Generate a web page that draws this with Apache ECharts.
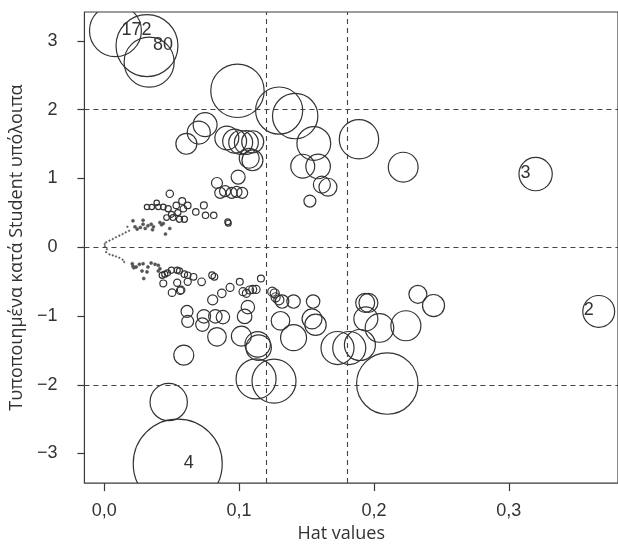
<!DOCTYPE html>
<html>
<head>
<meta charset="utf-8">
<script src="https://cdn.jsdelivr.net/npm/echarts@6/dist/echarts.min.js"></script>
<style>
  html, body { margin: 0; background: #fff; }
  #chart { width: 618px; height: 548px; }
</style>
</head>
<body>
<div id="chart"></div>
<script>
// influence plot: [hat value, studentized residual, Cook's D]
// labelled observations first
const labelledIds = ["172", "80", "3", "2", "4"];
const labelled = [
  [0.0083, 3.147, 0.085],
  [0.0317, 2.931, 0.121],
  [0.3199, 1.063, 0.035],
  [0.3667, -0.934, 0.032],
  [0.0545, -3.147, 0.25]
];
// other large residuals / high leverage
const bigPoints = [
  [0.0333, 2.691, 0.079], [0.0988, 2.274, 0.090], [0.1297, 1.987, 0.070],
  [0.1416, 1.907, 0.065], [0.1554, 1.509, 0.036], [0.1889, 1.570, 0.049],
  [0.2217, 1.164, 0.028], [0.1472, 1.178, 0.018], [0.1586, 1.174, 0.019],
  [0.1614, 0.909, 0.0091], [0.1659, 0.872, 0.0102], [0.1525, 0.671, 0.0045],
  [0.0478, -2.251, 0.044], [0.0590, -1.570, 0.0126]
];
const upperCluster = [
  [0.0748, 1.782, 0.018], [0.0701, 1.667, 0.0167], [0.0609, 1.504, 0.0139],
  [0.0909, 1.588, 0.018], [0.0967, 1.542, 0.018], [0.1012, 1.523, 0.018],
  [0.1054, 1.523, 0.018], [0.1101, 1.533, 0.0153], [0.1075, 1.293, 0.0126],
  [0.1099, 1.264, 0.0139], [0.0836, 0.934, 0.0038], [0.0993, 1.020, 0.0062],
  [0.0860, 0.790, 0.0038], [0.0896, 0.815, 0.0038], [0.0945, 0.790, 0.0038],
  [0.0981, 0.805, 0.0038], [0.1023, 0.790, 0.0038], [0.0486, 0.776, 0.0017]
];
const upperSmall = [
  [0.0317, 0.585, 0.0009], [0.0353, 0.585, 0.0009], [0.0389, 0.647, 0.0009],
  [0.0401, 0.585, 0.0009], [0.0438, 0.585, 0.0010], [0.0474, 0.560, 0.0012],
  [0.0534, 0.608, 0.0013], [0.0578, 0.671, 0.0015], [0.0587, 0.560, 0.0013],
  [0.0619, 0.608, 0.0014], [0.0546, 0.503, 0.0012], [0.0498, 0.478, 0.0011],
  [0.0462, 0.431, 0.0010], [0.0510, 0.431, 0.0011], [0.0558, 0.407, 0.0012],
  [0.0594, 0.407, 0.0012], [0.0679, 0.513, 0.0013], [0.0739, 0.608, 0.0015],
  [0.0751, 0.464, 0.0013], [0.0812, 0.464, 0.0013], [0.0916, 0.369, 0.0011],
  [0.0920, 0.349, 0.0011]
];
const lowerSmall = [
  [0.0430, -0.407, 0.0012], [0.0449, -0.392, 0.0012], [0.0469, -0.374, 0.0012],
  [0.0498, -0.335, 0.0012], [0.0541, -0.335, 0.0012], [0.0558, -0.345, 0.0012],
  [0.0594, -0.392, 0.0013], [0.0619, -0.407, 0.0013], [0.0662, -0.431, 0.0014],
  [0.0800, -0.407, 0.0014], [0.0817, -0.431, 0.0014], [0.0438, -0.527, 0.0015],
  [0.0541, -0.517, 0.0016], [0.0619, -0.503, 0.0016], [0.0722, -0.503, 0.0018],
  [0.0503, -0.661, 0.0018], [0.0563, -0.632, 0.0018], [0.0570, -0.622, 0.0018]
];
const lowerCluster = [
  [0.1005, -0.503, 0.0015], [0.0933, -0.585, 0.0020], [0.0872, -0.671, 0.0023],
  [0.0804, -0.766, 0.0032], [0.1162, -0.455, 0.0015], [0.1029, -0.647, 0.0020],
  [0.1054, -0.671, 0.0020], [0.1078, -0.622, 0.0020], [0.1101, -0.614, 0.0020],
  [0.1126, -0.614, 0.0020], [0.1246, -0.647, 0.0026], [0.1264, -0.671, 0.0026],
  [0.1271, -0.728, 0.0026], [0.1295, -0.766, 0.0032], [0.1319, -0.790, 0.0057],
  [0.1404, -0.790, 0.0057], [0.1549, -0.790, 0.0057], [0.0614, -0.934, 0.0045],
  [0.0619, -1.078, 0.0045], [0.0739, -1.006, 0.0057], [0.0728, -1.125, 0.0057],
  [0.0824, -1.006, 0.0057], [0.0880, -1.016, 0.0057], [0.0836, -1.303, 0.0109],
  [0.1041, -1.006, 0.0067], [0.1065, -0.872, 0.0057], [0.1017, -1.293, 0.0126],
  [0.1145, -1.461, 0.0204], [0.1138, -1.412, 0.0204], [0.1307, -1.070, 0.0109],
  [0.1404, -1.315, 0.0213], [0.1541, -1.042, 0.0126], [0.1567, -1.128, 0.0144],
  [0.1126, -1.915, 0.0505], [0.1259, -1.947, 0.0611], [0.1730, -1.466, 0.0344],
  [0.1817, -1.466, 0.0344], [0.1896, -1.422, 0.0303], [0.1935, -0.809, 0.0114],
  [0.1959, -0.809, 0.0114], [0.1940, -1.042, 0.0182], [0.2041, -1.174, 0.0258],
  [0.2237, -1.142, 0.0284], [0.2326, -0.685, 0.0102], [0.2442, -0.848, 0.0153],
  [0.2099, -1.983, 0.1189]
];
// tiny, near-zero influence points
const dots = [
  [0.0213, 0.384, 0.0003], [0.0228, 0.297, 0.0003], [0.0244, 0.263, 0.0003],
  [0.0268, 0.287, 0.0003], [0.0288, 0.392, 0.0003], [0.0288, 0.335, 0.0003],
  [0.0304, 0.273, 0.0003], [0.0324, 0.312, 0.0003], [0.0348, 0.335, 0.0003],
  [0.0358, 0.254, 0.0003], [0.0365, 0.297, 0.0003], [0.0413, 0.359, 0.0003],
  [0.0425, 0.326, 0.0003], [0.0438, 0.345, 0.0003], [0.0486, 0.273, 0.0003],
  [0.0454, 0.191, 0.0003],
  [0.0213, -0.277, 0.0003], [0.0237, -0.287, 0.0003], [0.0261, -0.249, 0.0003],
  [0.0288, -0.240, 0.0003], [0.0324, -0.287, 0.0003], [0.0348, -0.230, 0.0003],
  [0.0377, -0.249, 0.0003], [0.0401, -0.263, 0.0003], [0.0413, -0.312, 0.0003],
  [0.0401, -0.345, 0.0003], [0.0280, -0.345, 0.0003], [0.0293, -0.455, 0.0003],
  [0.0220, -0.297, 0.0003], [0.0317, -0.359, 0.0003], [0.0208, -0.240, 0.0003]
];
const specks = [
  [0.0172, 0.297, 0.00008], [0.0184, 0.240, 0.00008], [0.0159, 0.216, 0.00008],
  [0.0136, 0.191, 0.00008], [0.0112, 0.168, 0.00008], [0.0087, 0.144, 0.00008],
  [0.0063, 0.119, 0.00008], [0.0039, 0.096, 0.00008], [0.0014, 0.072, 0.00008],
  [0.0003, 0.047, 0.00008], [0.0005, 0.014, 0.00008], [0.0020, -0.029, 0.00008],
  [0.0014, -0.072, 0.00008], [0.0039, -0.105, 0.00008], [0.0063, -0.119, 0.00008],
  [0.0087, -0.134, 0.00008], [0.0112, -0.154, 0.00008], [0.0136, -0.182, 0.00008],
  [0.0148, -0.216, 0.00008]
];
// reference lines: 2x and 3x mean hat, residual -2 / 0 / 2
const hatCutoffs = [0.1175, 0.1768];
const residCutoffs = [-2, 0, 2];
const xTicks = [0, 0.1, 0.2, 0.3];
const yTicks = [-3, -2, -1, 0, 1, 2, 3];

const allPoints = [].concat(labelled, bigPoints, upperCluster, upperSmall,
  lowerSmall, lowerCluster, dots, specks);
const cookMax = Math.max(...allPoints.map(p => p[2]));
const R_MAX = 44.5; // radius of the largest bubble, px
const X_MIN = -0.0147, X_MAX = 0.381;
const xMid = (X_MIN + X_MAX) / 2;
const ink = "#333";

const chart = echarts.init(document.getElementById("chart"));
chart.setOption({
  animation: false,
  grid: {
    left: 81, top: 12, right: -8, bottom: 59,
    show: true, borderColor: "#3a3a3a", borderWidth: 1.2
  },
  xAxis: {
    type: "value", min: X_MIN, max: X_MAX,
    axisLine: { show: false, onZero: false },
    splitLine: { show: false },
    axisTick: { show: true, length: 8, customValues: xTicks, lineStyle: { color: "#3a3a3a", width: 1.2 } },
    axisLabel: {
      customValues: xTicks, margin: 19, color: ink, fontSize: 18, fontFamily: "Liberation Sans",
      formatter: v => v.toFixed(1).replace(".", ",")
    },
    name: "Hat values", nameLocation: "middle", nameGap: 41,
    nameTextStyle: { color: ink, fontSize: 18, fontFamily: "Open Sans", padding: [0, 20, 0, 0] }
  },
  yAxis: {
    type: "value", min: -3.43, max: 3.42,
    axisLine: { show: false, onZero: false },
    splitLine: { show: false },
    axisTick: { show: true, length: 7, customValues: yTicks, lineStyle: { color: "#3a3a3a", width: 1.2 } },
    axisLabel: {
      customValues: yTicks, margin: 27, color: ink, fontSize: 18, fontFamily: "Liberation Sans",
      formatter: v => (v < 0 ? "\u2212" + Math.abs(v) : String(v))
    },
    name: "Τυποποιημένα κατά Student υπόλοιπα", nameLocation: "middle", nameGap: 54,
    nameTextStyle: { color: ink, fontSize: 18, fontFamily: "Open Sans" }
  },
  series: [
    {
      type: "line", data: [], silent: true,
      markLine: {
        silent: true, symbol: "none", label: { show: false },
        lineStyle: { color: "#444", type: [5, 4], width: 1.1 },
        data: residCutoffs.map(v => ({ yAxis: v })).concat(hatCutoffs.map(v => ({ xAxis: v })))
      }
    },
    {
      type: "custom", clip: true, silent: true,
      data: allPoints,
      renderItem: function (params, api) {
        const h = api.value(0), r = api.value(1), c = api.value(2);
        const pt = api.coord([h, r]);
        const rad = R_MAX * Math.sqrt(c / cookMax);
        const small = rad < 2;
        const children = [{
          type: "circle",
          shape: { cx: pt[0], cy: pt[1], r: rad },
          style: { fill: small ? "#555" : "none", stroke: small ? "#555" : ink, lineWidth: small ? 0.6 : 1.2 }
        }];
        const id = labelledIds[params.dataIndex];
        if (id) {
          const left = h > xMid;
          children.push({
            type: "text",
            style: {
              text: id, x: pt[0] + (left ? -5 : 6), y: pt[1] - 1,
              align: left ? "right" : "left", verticalAlign: "middle",
              fill: ink, fontSize: 18, fontFamily: "Liberation Sans"
            }
          });
        }
        return { type: "group", children: children };
      }
    }
  ]
});
</script>
</body>
</html>
